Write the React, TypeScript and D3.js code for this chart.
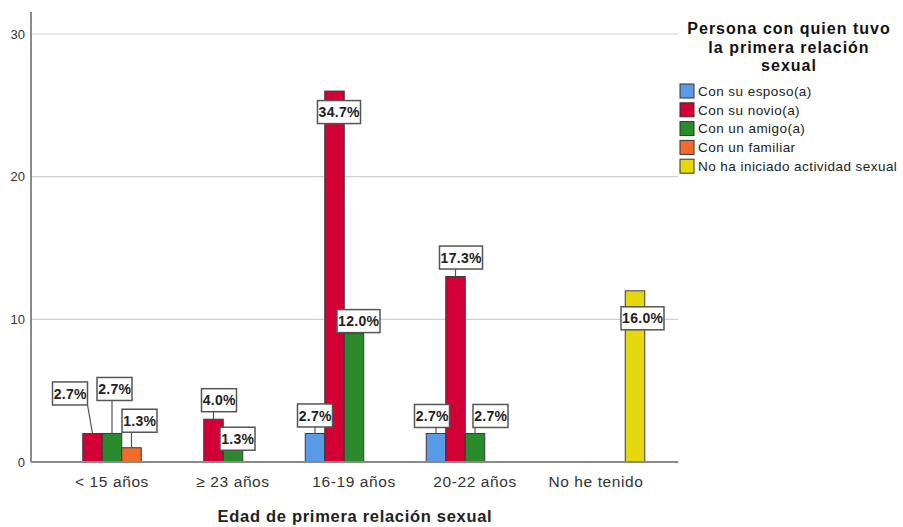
import * as React from 'react';
import { useRef, useEffect } from 'react';
import * as d3 from 'd3';

const categories = ['< 15 años', '≥ 23 años', '16-19 años', '20-22 años', 'No he tenido'];
const seriesNames = [
  'Con su esposo(a)',
  'Con su novio(a)',
  'Con un amigo(a)',
  'Con un familiar',
  'No ha iniciado actividad sexual',
];
const seriesColors = ['#5a9be5', '#d20034', '#2b8a2b', '#f26b2b', '#e5d80f'];
// counts per category, one array per series (null = no bar)
const esposo = [null, null, 2, 2, null];
const novio = [2, 3, 26, 13, null];
const amigo = [2, 1, 9, 2, null];
const familiar = [1, null, null, null, null];
const noIniciado = [null, null, null, null, 12];
const seriesValues = [esposo, novio, amigo, familiar, noIniciado];
const total = 75;
const yTicks = [0, 10, 20, 30];

// label box nudges (px) relative to bar top centre, keyed "cat-series"
const labelNudge: Record<string, [number, number]> = {
  '0-1': [-22.5, -40],
  '0-2': [2.5, -44.5],
  '0-3': [8, -27],
  '1-1': [5.5, -19],
  '1-2': [4.5, -9],
  '2-0': [0, -18],
  '2-1': [4.5, 21],
  '2-2': [4.5, -12.5],
  '3-0': [-4, -17.5],
  '3-1': [5.5, -19],
  '3-2': [15.5, -17.5],
  '4-4': [7.5, 27.5],
};

const FONT = 'Arial, "Liberation Sans", sans-serif';

export default function App() {
  const ref = useRef<SVGSVGElement>(null);
  const width = 903;
  const height = 527;
  const plot = { left: 31, right: 678, top: 12, bottom: 462 };

  useEffect(() => {
    if (!ref.current) return;
    const svg = d3.select(ref.current);
    svg.selectAll('*').remove();

    const y = d3.scaleLinear().domain([0, 30]).range([plot.bottom, 34]);
    const x = d3.scaleBand<string>().domain(categories).range([51.5, 656.5]);
    const inner = d3
      .scaleBand<number>()
      .domain(d3.range(seriesNames.length))
      .range([x.bandwidth() * 0.0971, x.bandwidth() * 0.9029]);

    // gridlines
    svg
      .append('g')
      .selectAll('line')
      .data(yTicks.filter((t) => t > 0))
      .join('line')
      .attr('x1', plot.left)
      .attr('x2', plot.right)
      .attr('y1', (d) => y(d))
      .attr('y2', (d) => y(d))
      .attr('stroke', '#d0d0d0')
      .attr('stroke-width', 1.2);

    // y tick labels
    svg
      .append('g')
      .selectAll('text')
      .data(yTicks)
      .join('text')
      .attr('x', 25)
      .attr('y', (d) => y(d))
      .attr('dy', '0.35em')
      .attr('text-anchor', 'end')
      .attr('font-family', FONT)
      .attr('font-size', 13)
      .attr('fill', '#333')
      .text((d) => d);

    // bars
    const bars: { c: number; s: number; v: number }[] = [];
    seriesValues.forEach((vals, s) =>
      vals.forEach((v, c) => {
        if (v != null) bars.push({ c, s, v });
      })
    );

    svg
      .append('g')
      .selectAll('rect')
      .data(bars)
      .join('rect')
      .attr('x', (d) => (x(categories[d.c]) ?? 0) + (inner(d.s) ?? 0))
      .attr('y', (d) => y(d.v))
      .attr('width', inner.bandwidth())
      .attr('height', (d) => y(0) - y(d.v))
      .attr('fill', (d) => seriesColors[d.s])
      .attr('stroke', '#3a3a3a')
      .attr('stroke-width', 1);

    // axes lines
    svg
      .append('line')
      .attr('x1', plot.left)
      .attr('x2', plot.left)
      .attr('y1', plot.top)
      .attr('y2', plot.bottom)
      .attr('stroke', '#8a8a8a')
      .attr('stroke-width', 2);
    svg
      .append('line')
      .attr('x1', plot.left)
      .attr('x2', plot.right)
      .attr('y1', plot.bottom)
      .attr('y2', plot.bottom)
      .attr('stroke', '#8a8a8a')
      .attr('stroke-width', 2);

    // x tick labels
    svg
      .append('g')
      .selectAll('text')
      .data(categories)
      .join('text')
      .attr('x', (d) => (x(d) ?? 0) + x.bandwidth() / 2)
      .attr('y', 487)
      .attr('text-anchor', 'middle')
      .attr('font-family', FONT)
      .attr('font-size', 15.5)
      .attr('letter-spacing', 0.6)
      .attr('fill', '#333')
      .text((d) => d);

    // x axis title
    svg
      .append('text')
      .attr('x', 355)
      .attr('y', 522)
      .attr('text-anchor', 'middle')
      .attr('font-family', FONT)
      .attr('font-size', 16.5)
      .attr('font-weight', 'bold')
      .attr('letter-spacing', 0.7)
      .attr('fill', '#222')
      .text('Edad de primera relación sexual');

    // value labels with leader lines
    const labels = svg.append('g');
    bars.forEach((d) => {
      const bx = (x(categories[d.c]) ?? 0) + (inner(d.s) ?? 0) + inner.bandwidth() / 2;
      const by = y(d.v);
      const [dx, dy] = labelNudge[`${d.c}-${d.s}`] ?? [0, -18];
      const txt = d3.format('.1f')((d.v / total) * 100) + '%';
      const w = txt.length * 8 + 3;
      const h = 23;
      const cx = bx + dx;
      const cy = by + dy;
      const x0 = cx - w / 2;
      const y0 = cy - h / 2;
      const nx = Math.max(x0, Math.min(bx, x0 + w));
      const ny = Math.max(y0, Math.min(by, y0 + h));
      if (dy < 0 && Math.hypot(nx - bx, ny - by) > 1) {
        labels
          .append('line')
          .attr('x1', bx)
          .attr('y1', by)
          .attr('x2', nx)
          .attr('y2', ny)
          .attr('stroke', '#555')
          .attr('stroke-width', 1.2);
      }
      labels
        .append('rect')
        .attr('x', x0)
        .attr('y', y0)
        .attr('width', w)
        .attr('height', h)
        .attr('fill', '#fff')
        .attr('stroke', '#555')
        .attr('stroke-width', 1.5);
      labels
        .append('text')
        .attr('x', cx + 0.2)
        .attr('y', cy)
        .attr('dy', '0.36em')
        .attr('text-anchor', 'middle')
        .attr('font-family', FONT)
        .attr('font-size', 14)
        .attr('font-weight', 'bold')
        .attr('letter-spacing', 0.3)
        .attr('fill', '#222')
        .text(txt);
    });

    // legend
    const legend = svg.append('g');
    ['Persona con quien tuvo', 'la primera relación', 'sexual'].forEach((t, i) => {
      legend
        .append('text')
        .attr('x', 789)
        .attr('y', 34 + i * 18.5)
        .attr('text-anchor', 'middle')
        .attr('font-family', FONT)
        .attr('font-size', 16)
        .attr('font-weight', 'bold')
        .attr('letter-spacing', 1)
        .attr('fill', '#111')
        .text(t);
    });
    const items = legend
      .selectAll('g.item')
      .data(seriesNames)
      .join('g')
      .attr('class', 'item')
      .attr('transform', (_, i) => `translate(680,${84 + i * 18.8})`);
    items
      .append('rect')
      .attr('width', 14)
      .attr('height', 14)
      .attr('fill', (_, i) => seriesColors[i])
      .attr('stroke', '#333')
      .attr('stroke-width', 1);
    items
      .append('text')
      .attr('x', 18)
      .attr('y', 7)
      .attr('dy', '0.36em')
      .attr('font-family', FONT)
      .attr('font-size', 13.5)
      .attr('letter-spacing', 0.45)
      .attr('fill', '#222')
      .text((d) => d);
  }, []);

  return (
    <svg
      ref={ref}
      width={width}
      height={height}
      style={{ position: 'absolute', left: 0, top: 0, background: '#fff' }}
    />
  );
}
